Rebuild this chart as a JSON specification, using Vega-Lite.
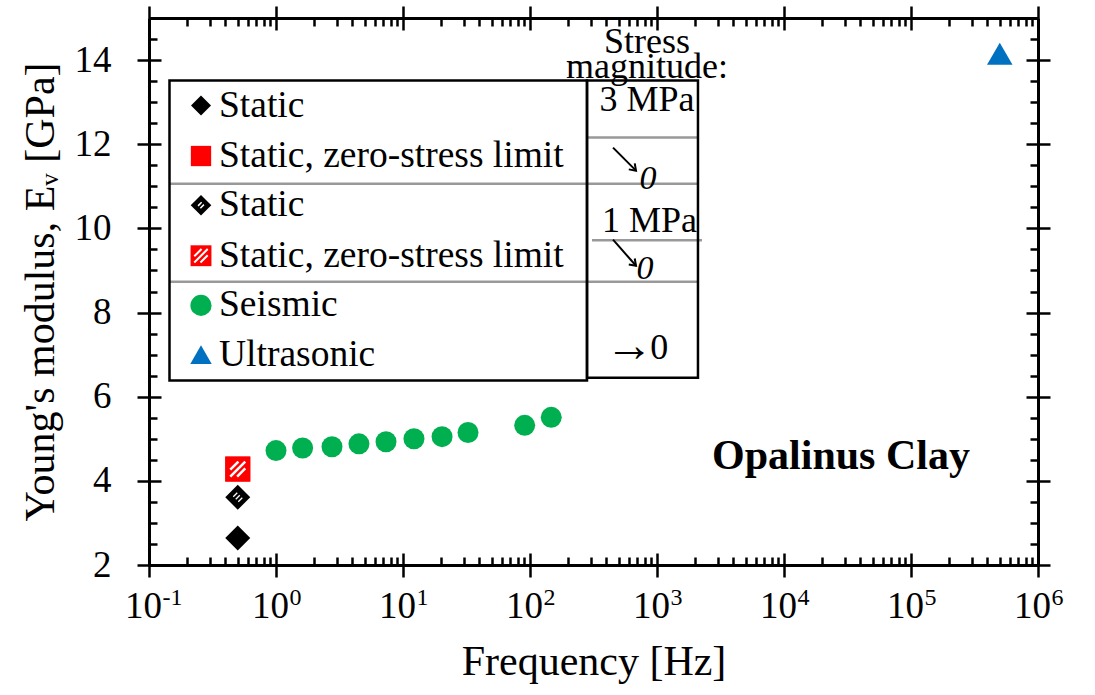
{
  "$schema": "https://vega.github.io/schema/vega-lite/v6.json",
  "width": 889,
  "height": 547,
  "autosize": {"type": "none"},
  "padding": {"left": 149, "top": 18, "right": 57, "bottom": 130},
  "background": "white",
  "datasets": {
    "pts": [
      {"series": "static3", "f": 0.5, "E": 2.64},
      {"series": "static1", "f": 0.5, "E": 3.61},
      {"series": "zero3", "f": 0.5, "E": 4.28},
      {"series": "zero1", "f": 0.5, "E": 4.28},
      {"series": "seismic", "f": 1.0, "E": 4.72},
      {"series": "seismic", "f": 1.62, "E": 4.78},
      {"series": "seismic", "f": 2.76, "E": 4.81},
      {"series": "seismic", "f": 4.5, "E": 4.88},
      {"series": "seismic", "f": 7.35, "E": 4.93},
      {"series": "seismic", "f": 12.2, "E": 5.0},
      {"series": "seismic", "f": 20.3, "E": 5.05},
      {"series": "seismic", "f": 32.5, "E": 5.15},
      {"series": "seismic", "f": 90.8, "E": 5.32},
      {"series": "seismic", "f": 147, "E": 5.51},
      {"series": "ultra", "f": 500000, "E": 14.15}
    ],
    "leg": [
      {"series": "static3", "label": "Static", "E": 12.92},
      {"series": "zero3", "label": "Static, zero-stress limit", "E": 11.72},
      {"series": "static1", "label": "Static", "E": 10.55},
      {"series": "zero1", "label": "Static, zero-stress limit", "E": 9.35},
      {"series": "seismic", "label": "Seismic", "E": 8.17},
      {"series": "ultra", "label": "Ultrasonic", "E": 7.0}
    ],
    "notes": [
      {"t": "Stress", "f": 834, "E": 14.42},
      {"t": "magnitude:", "f": 834, "E": 13.84},
      {"t": "3 MPa", "f": 834, "E": 13.06},
      {"t": "1 MPa", "f": 873, "E": 10.17},
      {"t": "0", "f": 1040, "E": 7.16}
    ],
    "arrows": [
      {"f": 450.5, "f2": 683.4, "E": 11.919, "E2": 11.372},
      {"f": 450.5, "f2": 683.4, "E": 9.731, "E2": 9.112}
    ],
    "right": [
      {"t": "→", "f": 605, "E": 7.17}
    ],
    "zeros": [
      {"t": "0", "f": 849, "E": 11.18},
      {"t": "0", "f": 805, "E": 9.04}
    ],
    "boxes": [
      {"f": 0.145, "f2": 281.1, "E": 13.513, "E2": 6.384},
      {"f": 281.1, "f2": 2102, "E": 13.513, "E2": 6.448}
    ],
    "lines": [
      {"f": 0.145, "f2": 2102, "E": 11.063},
      {"f": 0.145, "f2": 2102, "E": 8.732},
      {"f": 281.1, "f2": 2102, "E": 12.157},
      {"f": 307.8, "f2": 2262, "E": 9.719}
    ],
    "label": [
      {"t": "Opalinus Clay", "f": 28100, "E": 4.59}
    ]
  },
  "resolve": {"axis": {"x": "independent", "y": "independent"}},
  "layer": [
    {
      "data": {"name": "pts"},
      "transform": [{"filter": "datum.series === 'seismic'"}],
      "mark": {"type": "point", "shape": "circle", "filled": true, "color": "#00B050", "size": 441, "opacity": 1},
      "encoding": {
        "x": {"field": "f", "type": "quantitative", "scale": {"type": "log", "domain": [0.1, 1000000], "nice": false},
          "axis": {"orient": "bottom", "values": [0.1, 1, 10, 100, 1000, 10000, 100000, 1000000], "tickSize": 12, "labelExpr": "'10'", "labelFontSize": 37, "labelPadding": 11, "labelOffset": -6, "labelBaseline": "top", "labelAlign": "center", "title": "Frequency [Hz]", "titleFontSize": 42, "titlePadding": 17}},
        "y": {"field": "E", "type": "quantitative", "scale": {"domain": [2, 15], "nice": false, "zero": false},
          "axis": {"orient": "left", "values": [2, 4, 6, 8, 10, 12, 14], "tickSize": 12, "labelFontSize": 37, "labelPadding": 26, "title": "Young's modulus, Eᵥ [GPa]", "titleFontSize": 42, "titlePadding": 12}}
      }
    },
    {
      "data": {"name": "pts"},
      "transform": [{"filter": "datum.series === 'static3'"}],
      "mark": {"type": "point", "shape": "diamond", "filled": true, "color": "black", "size": 625, "opacity": 1},
      "encoding": {
        "x": {"field": "f", "type": "quantitative", "scale": {"type": "log", "domain": [0.1, 1000000], "nice": false},
          "axis": {"orient": "bottom", "values": [0.1, 1, 10, 100, 1000, 10000, 100000, 1000000], "tickSize": -12, "domain": false, "labelExpr": "'' + round(log(datum.value) / LN10)", "labelFontSize": 24, "labelAlign": "left", "labelOffset": 13, "labelPadding": 32, "labelBaseline": "top", "title": null}},
        "y": {"field": "E", "type": "quantitative", "scale": {"domain": [2, 15], "nice": false, "zero": false},
          "axis": {"orient": "left", "values": [2, 4, 6, 8, 10, 12, 14], "tickSize": -12, "domain": false, "labels": false, "title": null}}
      }
    },
    {
      "data": {"name": "pts"},
      "transform": [{"filter": "datum.series === 'static1'"}],
      "mark": {"type": "point", "shape": "diamond", "filled": true, "color": "black", "size": 625, "opacity": 1},
      "encoding": {
        "x": {"field": "f", "type": "quantitative", "scale": {"type": "log", "domain": [0.1, 1000000], "nice": false},
          "axis": {"orient": "bottom", "values": [0.2,0.3,0.4,0.5,0.6,0.7,0.8,0.9,2,3,4,5,6,7,8,9,20,30,40,50,60,70,80,90,200,300,400,500,600,700,800,900,2000,3000,4000,5000,6000,7000,8000,9000,20000,30000,40000,50000,60000,70000,80000,90000,200000,300000,400000,500000,600000,700000,800000,900000], "tickSize": -8, "domain": false, "labels": false, "title": null}},
        "y": {"field": "E", "type": "quantitative", "scale": {"domain": [2, 15], "nice": false, "zero": false},
          "axis": {"orient": "left", "values": [2.5,3,3.5,4.5,5,5.5,6.5,7,7.5,8.5,9,9.5,10.5,11,11.5,12.5,13,13.5,14.5,15], "tickSize": -8, "domain": false, "labels": false, "title": null}}
      }
    },
    {
      "data": {"name": "pts"},
      "transform": [{"filter": "datum.series === 'zero3' || datum.series === 'zero1'"}],
      "mark": {"type": "point", "shape": "square", "filled": true, "color": "#FF0000", "size": 625, "opacity": 1},
      "encoding": {
        "x": {"field": "f", "type": "quantitative", "scale": {"type": "log", "domain": [0.1, 1000000], "nice": false},
          "axis": {"orient": "top", "values": [0.1, 1, 10, 100, 1000, 10000, 100000, 1000000], "tickSize": 12, "labels": false, "title": null}},
        "y": {"field": "E", "type": "quantitative", "scale": {"domain": [2, 15], "nice": false, "zero": false},
          "axis": {"orient": "right", "values": [2, 4, 6, 8, 10, 12, 14], "tickSize": 12, "labels": false, "title": null}}
      }
    },
    {
      "data": {"name": "pts"},
      "transform": [{"filter": "datum.series === 'static1'"}],
      "mark": {"type": "point", "shape": "M-0.36,-0.04L-0.04,-0.36M-0.16,0.16L0.16,-0.16M0.04,0.36L0.36,0.04", "filled": false, "color": "white", "strokeWidth": 1.3, "size": 625, "opacity": 1},
      "encoding": {
        "x": {"field": "f", "type": "quantitative", "scale": {"type": "log", "domain": [0.1, 1000000], "nice": false},
          "axis": {"orient": "top", "values": [0.1, 1, 10, 100, 1000, 10000, 100000, 1000000], "tickSize": -12, "domain": false, "labels": false, "title": null}},
        "y": {"field": "E", "type": "quantitative", "scale": {"domain": [2, 15], "nice": false, "zero": false},
          "axis": {"orient": "right", "values": [2, 4, 6, 8, 10, 12, 14], "tickSize": -12, "domain": false, "labels": false, "title": null}}
      }
    },
    {
      "data": {"name": "pts"},
      "transform": [{"filter": "datum.series === 'ultra'"}],
      "mark": {"type": "point", "shape": "triangle-up", "filled": true, "color": "#0070C0", "size": 650, "opacity": 1},
      "encoding": {
        "x": {"field": "f", "type": "quantitative", "scale": {"type": "log", "domain": [0.1, 1000000], "nice": false},
          "axis": {"orient": "top", "values": [0.2,0.3,0.4,0.5,0.6,0.7,0.8,0.9,2,3,4,5,6,7,8,9,20,30,40,50,60,70,80,90,200,300,400,500,600,700,800,900,2000,3000,4000,5000,6000,7000,8000,9000,20000,30000,40000,50000,60000,70000,80000,90000,200000,300000,400000,500000,600000,700000,800000,900000], "tickSize": -8, "domain": false, "labels": false, "title": null}},
        "y": {"field": "E", "type": "quantitative", "scale": {"domain": [2, 15], "nice": false, "zero": false},
          "axis": {"orient": "right", "values": [2.5,3,3.5,4.5,5,5.5,6.5,7,7.5,8.5,9,9.5,10.5,11,11.5,12.5,13,13.5,14.5,15], "tickSize": -8, "domain": false, "labels": false, "title": null}}
      }
    },
    {
      "data": {"name": "pts"},
      "transform": [{"filter": "datum.series === 'zero1'"}],
      "mark": {"type": "point", "shape": "M-0.6,0.05L0.05,-0.6M-0.6,0.6L0.6,-0.6M-0.05,0.6L0.6,-0.05", "filled": false, "color": "white", "strokeWidth": 2.5, "size": 625, "opacity": 1},
      "encoding": {
        "x": {"field": "f", "type": "quantitative", "scale": {"type": "log", "domain": [0.1, 1000000], "nice": false}, "axis": null},
        "y": {"field": "E", "type": "quantitative", "scale": {"domain": [2, 15], "nice": false, "zero": false}, "axis": null}
      }
    },
    {
      "data": {"name": "lines"},
      "mark": {"type": "rule", "color": "#999999", "strokeWidth": 2.5},
      "encoding": {
        "x": {"field": "f", "type": "quantitative", "scale": {"type": "log", "domain": [0.1, 1000000], "nice": false}, "axis": null},
        "x2": {"field": "f2"},
        "y": {"field": "E", "type": "quantitative", "scale": {"domain": [2, 15], "nice": false, "zero": false}, "axis": null}
      }
    },
    {
      "data": {"name": "boxes"},
      "mark": {"type": "rect", "filled": false, "stroke": "black", "strokeWidth": 2.5},
      "encoding": {
        "x": {"field": "f", "type": "quantitative", "scale": {"type": "log", "domain": [0.1, 1000000], "nice": false}, "axis": null},
        "x2": {"field": "f2"},
        "y": {"field": "E", "type": "quantitative", "scale": {"domain": [2, 15], "nice": false, "zero": false}, "axis": null},
        "y2": {"field": "E2"}
      }
    },
    {
      "data": {"name": "leg"},
      "mark": {"type": "point", "filled": true, "opacity": 1},
      "encoding": {
        "x": {"datum": 0.2567, "type": "quantitative", "scale": {"type": "log", "domain": [0.1, 1000000], "nice": false}, "axis": null},
        "y": {"field": "E", "type": "quantitative", "scale": {"domain": [2, 15], "nice": false, "zero": false}, "axis": null},
        "shape": {"field": "series", "type": "nominal", "scale": {"domain": ["static3", "zero3", "static1", "zero1", "seismic", "ultra"], "range": ["diamond", "square", "diamond", "square", "circle", "triangle-up"]}, "legend": null},
        "color": {"field": "series", "type": "nominal", "scale": {"domain": ["static3", "zero3", "static1", "zero1", "seismic", "ultra"], "range": ["black", "#FF0000", "black", "#FF0000", "#00B050", "#0070C0"]}, "legend": null},
        "size": {"field": "series", "type": "nominal", "scale": {"domain": ["static3", "zero3", "static1", "zero1", "seismic", "ultra"], "range": [400, 460, 440, 500, 484, 420]}, "legend": null}
      }
    },
    {
      "data": {"name": "leg"},
      "transform": [{"filter": "datum.series === 'static1'"}],
      "mark": {"type": "point", "shape": "M-0.28,0.06L0.06,-0.28M-0.06,0.28L0.28,-0.06", "filled": false, "color": "white", "strokeWidth": 1.5, "size": 440, "opacity": 1},
      "encoding": {
        "x": {"datum": 0.2567, "type": "quantitative", "scale": {"type": "log", "domain": [0.1, 1000000], "nice": false}, "axis": null},
        "y": {"field": "E", "type": "quantitative", "scale": {"domain": [2, 15], "nice": false, "zero": false}, "axis": null}
      }
    },
    {
      "data": {"name": "leg"},
      "transform": [{"filter": "datum.series === 'zero1'"}],
      "mark": {"type": "point", "shape": "M-0.6,0.05L0.05,-0.6M-0.6,0.6L0.6,-0.6M-0.05,0.6L0.6,-0.05", "filled": false, "color": "white", "strokeWidth": 2, "size": 500, "opacity": 1},
      "encoding": {
        "x": {"datum": 0.2567, "type": "quantitative", "scale": {"type": "log", "domain": [0.1, 1000000], "nice": false}, "axis": null},
        "y": {"field": "E", "type": "quantitative", "scale": {"domain": [2, 15], "nice": false, "zero": false}, "axis": null}
      }
    },
    {
      "data": {"name": "leg"},
      "mark": {"type": "text", "align": "left", "baseline": "middle", "font": "Liberation Serif", "fontSize": 37.5, "color": "black"},
      "encoding": {
        "x": {"datum": 0.3557, "type": "quantitative", "scale": {"type": "log", "domain": [0.1, 1000000], "nice": false}, "axis": null},
        "y": {"field": "E", "type": "quantitative", "scale": {"domain": [2, 15], "nice": false, "zero": false}, "axis": null},
        "text": {"field": "label"}
      }
    },
    {
      "data": {"name": "notes"},
      "mark": {"type": "text", "align": "center", "baseline": "middle", "font": "Liberation Serif", "fontSize": 36, "color": "black"},
      "encoding": {
        "x": {"field": "f", "type": "quantitative", "scale": {"type": "log", "domain": [0.1, 1000000], "nice": false}, "axis": null},
        "y": {"field": "E", "type": "quantitative", "scale": {"domain": [2, 15], "nice": false, "zero": false}, "axis": null},
        "text": {"field": "t"}
      }
    },
    {
      "data": {"name": "arrows"},
      "mark": {"type": "rule", "color": "black", "strokeWidth": 2},
      "encoding": {
        "x": {"field": "f", "type": "quantitative", "scale": {"type": "log", "domain": [0.1, 1000000], "nice": false}, "axis": null},
        "x2": {"field": "f2"},
        "y": {"field": "E", "type": "quantitative", "scale": {"domain": [2, 15], "nice": false, "zero": false}, "axis": null},
        "y2": {"field": "E2"}
      }
    },
    {
      "data": {"name": "arrows"},
      "mark": {"type": "point", "shape": "M-1,-0.7L0,0L-1,0.7", "filled": false, "color": "black", "strokeWidth": 2, "size": 144, "angle": 45, "opacity": 1},
      "encoding": {
        "x": {"field": "f2", "type": "quantitative", "scale": {"type": "log", "domain": [0.1, 1000000], "nice": false}, "axis": null},
        "y": {"field": "E2", "type": "quantitative", "scale": {"domain": [2, 15], "nice": false, "zero": false}, "axis": null}
      }
    },
    {
      "data": {"name": "right"},
      "mark": {"type": "text", "align": "center", "baseline": "middle", "font": "Liberation Serif", "fontSize": 48, "color": "black"},
      "encoding": {
        "x": {"field": "f", "type": "quantitative", "scale": {"type": "log", "domain": [0.1, 1000000], "nice": false}, "axis": null},
        "y": {"field": "E", "type": "quantitative", "scale": {"domain": [2, 15], "nice": false, "zero": false}, "axis": null},
        "text": {"field": "t"}
      }
    },
    {
      "data": {"name": "zeros"},
      "mark": {"type": "text", "align": "center", "baseline": "middle", "font": "Liberation Serif", "fontSize": 34, "fontStyle": "italic", "color": "black"},
      "encoding": {
        "x": {"field": "f", "type": "quantitative", "scale": {"type": "log", "domain": [0.1, 1000000], "nice": false}, "axis": null},
        "y": {"field": "E", "type": "quantitative", "scale": {"domain": [2, 15], "nice": false, "zero": false}, "axis": null},
        "text": {"field": "t"}
      }
    },
    {
      "data": {"name": "label"},
      "mark": {"type": "text", "align": "center", "baseline": "middle", "font": "Liberation Serif", "fontSize": 42, "fontWeight": "bold", "color": "black"},
      "encoding": {
        "x": {"field": "f", "type": "quantitative", "scale": {"type": "log", "domain": [0.1, 1000000], "nice": false}, "axis": null},
        "y": {"field": "E", "type": "quantitative", "scale": {"domain": [2, 15], "nice": false, "zero": false}, "axis": null},
        "text": {"field": "t"}
      }
    }
  ],
  "config": {
    "view": {"stroke": null},
    "axis": {
      "grid": false,
      "tickColor": "black",
      "domainColor": "black",
      "tickWidth": 2.5,
      "domainWidth": 3,
      "labelFont": "Liberation Serif",
      "labelColor": "black",
      "titleFont": "Liberation Serif",
      "titleColor": "black",
      "titleFontWeight": "normal",
      "labelFlush": false,
      "labelOverlap": false,
      "labelBound": false
    }
  }
}
